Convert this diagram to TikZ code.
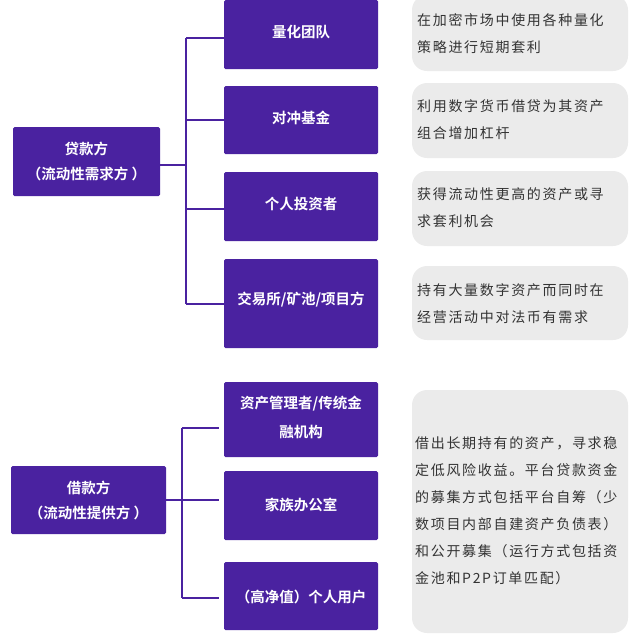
\documentclass[tikz,border=0pt]{standalone}
\usepackage{fontspec}
\setmainfont{Noto Sans CJK SC}
\newfontfamily\cjkb{Noto Sans CJK SC Bold}
\newfontfamily\cjkr[LetterSpace=12]{Noto Sans CJK SC}
\definecolor{pur}{HTML}{4A22A0}
\definecolor{gbox}{HTML}{EBEBEB}
\definecolor{gtxt}{HTML}{333333}
\begin{document}
\begin{tikzpicture}[x=1pt,y=-1pt,
  pbox/.style={fill=pur,rounded corners=1.5pt,inner sep=0pt},
  ptext/.style={text=white,font=\cjkb\fontsize{14.5}{25}\selectfont,align=center,inner sep=0pt},
  gcard/.style={fill=gbox,rounded corners=15pt,inner sep=0pt},
  gtext/.style={text=gtxt,font=\cjkr\fontsize{14}{27}\selectfont,align=left,inner sep=0pt,anchor=north west},
  conn/.style={draw=pur,line width=2pt}]
\useasboundingbox (0,0) rectangle (640,635);
% left boxes
\node[pbox,minimum width=147pt,minimum height=69pt] (L1) at (86.5,161.5) {};
\node[ptext] (L1t) at (86.5,161.5) {贷款方\\（流动性需求方 ）};
\node[pbox,minimum width=155pt,minimum height=68pt] (L2) at (88.5,500) {};
\node[ptext] (L2t) at (88.5,500) {借款方\\（流动性提供方 ）};
% right boxes top
\node[pbox,minimum width=154pt,minimum height=69pt] (R1) at (301,34.5) {};
\node[ptext] (R1t) at (301,32) {量化团队};
\node[pbox,minimum width=154pt,minimum height=68pt] (R2) at (301,120) {};
\node[ptext] (R2t) at (301,118) {对冲基金};
\node[pbox,minimum width=154pt,minimum height=69pt] (R3) at (301,206.5) {};
\node[ptext] (R3t) at (301,204) {个人投资者};
\node[pbox,minimum width=154pt,minimum height=89pt] (R4) at (301,303.5) {};
\node[ptext] (R4t) at (301,300) {交易所/矿池/项目方};
% right boxes bottom
\node[pbox,minimum width=154pt,minimum height=75pt] (R5) at (301,419.5) {};
\node[ptext,font=\cjkb\fontsize{14.5}{29}\selectfont] (R5t) at (301,417.5) {资产管理者/传统金\\融机构};
\node[pbox,minimum width=154pt,minimum height=69pt] (R6) at (301,505.5) {};
\node[ptext] (R6t) at (301,505) {家族办公室};
\node[pbox,minimum width=154pt,minimum height=68pt] (R7) at (301,596) {};
\node[ptext] (R7t) at (301,597) {（高净值）个人用户};
% connectors top
\coordinate (b1t) at (186,38);
\coordinate (b1b) at (186,304);
\draw[conn] (L1.east |- 0,165) -- (186,165);
\draw[conn] (b1t) -- (b1b);
\draw[conn] (b1t) -- (R1.west |- b1t);
\draw[conn] (186,120) -- (R2.west |- 0,120);
\draw[conn] (186,209) -- (R3.west |- 0,209);
\draw[conn] (b1b) -- (R4.west |- b1b);
% connectors bottom
\coordinate (b2t) at (182,428);
\coordinate (b2b) at (182,598);
\draw[conn] (L2.east |- 0,500) -- (182,500);
\draw[conn] (b2t) -- (b2b);
\draw[conn] (b2t) -- (219,428);
\draw[conn] (182,500) -- (219,500);
\draw[conn] (b2b) -- (219,598);
% grey cards
\node[gcard,minimum width=216pt,minimum height=76pt] (G1) at (520,33) {};
\node[gcard,minimum width=216pt,minimum height=75pt] (G2) at (520,120.5) {};
\node[gcard,minimum width=216pt,minimum height=75pt] (G3) at (520,208.5) {};
\node[gcard,minimum width=216pt,minimum height=74pt] (G4) at (520,303) {};
\node[gcard,minimum width=216pt,minimum height=243pt] (G5) at (520,511.5) {};
\node[gtext] (T1) at (417,13) {在加密市场中使用各种量化\\策略进行短期套利};
\node[gtext] (T2) at (417,99) {利用数字货币借贷为其资产\\组合增加杠杆};
\node[gtext] (T3) at (417,187) {获得流动性更高的资产或寻\\求套利机会};
\node[gtext] (T4) at (417,283) {持有大量数字资产而同时在\\经营活动中对法币有需求};
\node[gtext] (T5) at (415,436) {借出长期持有的资产，寻求稳\\定低风险收益。平台贷款资金\\的募集方式包括平台自筹（少\\数项目内部自建资产负债表）\\和公开募集（运行方式包括资\\金池和P2P订单匹配）};
\end{tikzpicture}
\end{document}
